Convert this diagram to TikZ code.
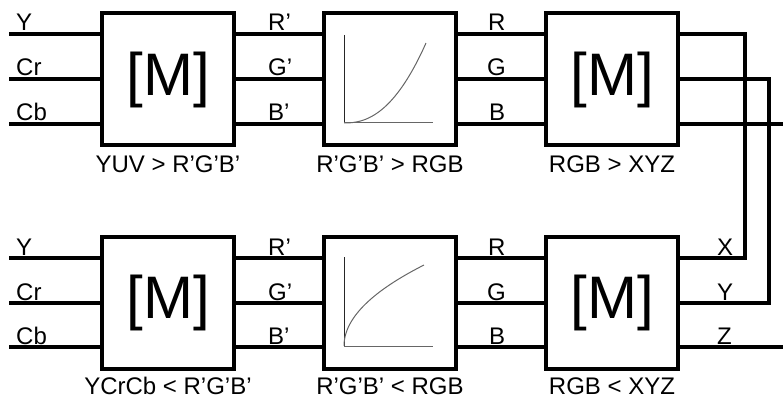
\documentclass[tikz,border=0pt]{standalone}
\usepackage{fontspec}
\setmainfont{Liberation Sans}
\begin{document}
\begin{tikzpicture}[x=1pt,y=-1pt,
  wire/.style={line width=3.6pt,line join=miter,line cap=rect},
  mbox/.style={draw,line width=4pt,minimum size=132pt,inner sep=0pt,
    font=\fontsize{60}{60}\selectfont},
  sig/.style={anchor=base west,inner sep=0pt,font=\fontsize{24}{24}\selectfont},
  blockcaption/.style={anchor=base,inner sep=0pt,font=\fontsize{24}{24}\selectfont},
  axis/.style={line width=1pt,black!85},
  curve/.style={line width=1pt,black!60}]
\useasboundingbox (0,0) rectangle (783,398);

% blocks of the forward chain (top) and the inverse chain (bottom)
\node[mbox] (b1) at (168,79.5) {[M]};
\node[mbox] (b2) at (390,79.5) {};
\node[mbox] (b3) at (612,79.5) {[M]};
\node[mbox] (b4) at (168,303) {[M]};
\node[mbox] (b5) at (390,303) {};
\node[mbox] (b6) at (612,303) {[M]};

% captions under the blocks
\node[blockcaption] (c1) at ([yshift=-25pt]b1.south) {YUV > R'G'B'};
\node[blockcaption] (c2) at ([yshift=-25pt]b2.south) {R'G'B' > RGB};
\node[blockcaption] (c3) at ([yshift=-25pt]b3.south) {RGB > XYZ};
\node[blockcaption] (c4) at ([yshift=-23pt]b4.south) {YCrCb < R'G'B'};
\node[blockcaption] (c5) at ([yshift=-23pt]b5.south) {R'G'B' < RGB};
\node[blockcaption] (c6) at ([yshift=-23pt]b6.south) {RGB < XYZ};

% free ends of the signal lines
\coordinate (i1) at (11,34);  \coordinate (i2) at (11,79);  \coordinate (i3) at (11,124);
\coordinate (j1) at (11,258); \coordinate (j2) at (11,303); \coordinate (j3) at (11,347);
\coordinate (o3) at (783,124); \coordinate (p3) at (783,347);
\coordinate (kx) at (745,0);  \coordinate (ky) at (769,0);

% top row wires
\foreach \r in {1,2,3}{
  \draw[wire] (i\r) -- (b1.west |- i\r);
  \draw[wire] (b1.east |- i\r) -- (b2.west |- i\r);
  \draw[wire] (b2.east |- i\r) -- (b3.west |- i\r);
}
% bottom row wires
\foreach \r in {1,2,3}{
  \draw[wire] (j\r) -- (b4.west |- j\r);
  \draw[wire] (b4.east |- j\r) -- (b5.west |- j\r);
  \draw[wire] (b5.east |- j\r) -- (b6.west |- j\r);
}
% outputs and the loop back into the inverse chain
\draw[wire] (b3.east |- i3) -- (o3);
\draw[wire] (b6.east |- j3) -- (p3);
\draw[wire] (b3.east |- i1) -- (kx |- i1) -- (kx |- j1) -- (b6.east |- j1);
\draw[wire] (b3.east |- i2) -- (ky |- i2) -- (ky |- j2) -- (b6.east |- j2);

% signal names
\node[sig] (tY)  at (16,31)  {Y};
\node[sig] (tCr) at (16,76)  {Cr};
\node[sig] (tCb) at (16,121) {Cb};
\node[sig] (tR1) at (268,31)  {R'};
\node[sig] (tG1) at (268,76)  {G'};
\node[sig] (tB1) at (268,121) {B'};
\node[sig] (tR2) at (488,31)  {R};
\node[sig] (tG2) at (487,76)  {G};
\node[sig] (tB2) at (489,121) {B};

\node[sig] (uY)  at (16,255) {Y};
\node[sig] (uCr) at (16,300) {Cr};
\node[sig] (uCb) at (16,344) {Cb};
\node[sig] (uR1) at (268,255) {R'};
\node[sig] (uG1) at (268,300) {G'};
\node[sig] (uB1) at (268,344) {B'};
\node[sig] (uR2) at (488,255) {R};
\node[sig] (uG2) at (487,300) {G};
\node[sig] (uB2) at (489,344) {B};
\node[sig] (uX)  at (717,255) {X};
\node[sig] (uYo) at (717,300) {Y};
\node[sig] (uZ)  at (717,344) {Z};

% transfer curves
\draw[axis] (344,35) -- (344,123);
\draw[curve] (344,123) -- (433,123);
\draw[curve] plot[domain=0:1,samples=40,smooth] ({344+82*\x},{123-80*(\x)^2.3});
\draw[axis] (344,257) -- (344,346);
\draw[curve] (344,346) -- (433,346);
\draw[curve] plot[domain=0:1,samples=40,smooth] ({344+80*\x*\x},{346-81*\x});
\end{tikzpicture}
\end{document}
